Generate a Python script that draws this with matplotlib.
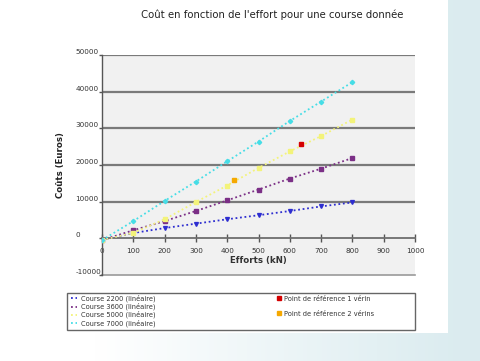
import numpy as np
import matplotlib
matplotlib.use("Agg")
import matplotlib.pyplot as plt
from matplotlib.patches import Rectangle
from matplotlib.lines import Line2D

# ---- data ----
efforts = [0, 100, 200, 300, 400, 500, 600, 700, 800]
course_2200 = [-500, 1450, 2800, 4000, 5200, 6300, 7450, 8700, 9800]
course_3600 = [-500, 2200, 4700, 7450, 10350, 13300, 16300, 19000, 21900]
course_5000 = [-500, 1500, 5200, 9900, 14400, 19200, 23700, 27900, 32400]
course_7000 = [-500, 4700, 10200, 15500, 21000, 26400, 32000, 37300, 42600]
ref1_x, ref1_y = [636], [25600]
ref2_x, ref2_y = [422], [15800]

series_labels = ["Course 2200 (linéaire)", "Course 3600 (linéaire)",
                 "Course 5000 (linéaire)", "Course 7000 (linéaire)"]
ref_labels = ["Point de référence 1 vérin", "Point de référence 2 vérins"]
x_ticks = [0, 100, 200, 300, 400, 500, 600, 700, 800, 900, 1000]
y_ticks = [-10000, 0, 10000, 20000, 30000, 40000, 50000]

W, H = 480, 361
fig = plt.figure(figsize=(W / 100, H / 100), dpi=100)
plt.rcParams['font.family'] = ['DejaVu Sans']

# ---- background ----
bg = fig.add_axes([0, 0, 1, 1], zorder=-10)
bg.set_axis_off()
grad = np.clip((np.linspace(0, 1, 200) - 0.2) / 0.75, 0, 1)
c0 = np.array([1.0, 1.0, 1.0])
c1 = np.array([0.86, 0.925, 0.94])
img = c0[None, None, :] * (1 - grad)[None, :, None] + c1[None, None, :] * grad[None, :, None]
bg.imshow(img, aspect='auto', extent=[0, W, 0, H])
bg.add_patch(Rectangle((0, H - 333), 448, 333, facecolor='white', edgecolor='none'))
bg.set_xlim(0, W)
bg.set_ylim(0, H)

def px(x0, y0, x1, y1):
    return [x0 / W, 1 - y1 / H, (x1 - x0) / W, (y1 - y0) / H]

ax = fig.add_axes(px(102, 55, 415, 275))
ax.set_facecolor('#f1f1f1')
ax.set_xlim(0, 1000)
ax.set_ylim(-10000, 50000)

for s in ['top', 'right']:
    ax.spines[s].set_visible(False)
ax.spines['bottom'].set_position(('data', 0))
ax.spines['bottom'].set_color('#6e6e6e')
ax.spines['bottom'].set_linewidth(1.3)
ax.spines['left'].set_color('#555555')
ax.spines['left'].set_linewidth(1.0)

for yv in y_ticks[2:]:
    ax.axhline(yv, color='#7a7a7a', lw=1.6, zorder=1)
ax.axhline(y_ticks[0], color='#9a9a9a', lw=1.2, zorder=1, clip_on=False)

ax.set_xticks(x_ticks)
ax.set_xticklabels([str(v) for v in x_ticks])
ax.set_yticks(y_ticks)
ax.set_yticklabels([str(v) for v in y_ticks])
ax.tick_params(axis='x', direction='inout', length=6, width=1, color='#555555',
               labelsize=5.2, pad=4, labelcolor='#333333')
ax.tick_params(axis='y', direction='out', length=2, width=1, color='#555555',
               labelsize=5.2, pad=17, labelcolor='#333333')
for lab in ax.get_yticklabels():
    lab.set_horizontalalignment('left')
    lab.set_verticalalignment('bottom')

ax.set_xlabel("Efforts (kN)", fontsize=6.2, fontweight='bold', color='#333333')
ax.xaxis.set_label_coords(0.5, 0.085)
ax.set_ylabel("Coûts (Euros)", fontsize=6.2, fontweight='bold', color='#222222')
ax.yaxis.set_label_coords(-0.118, 0.5)

styles = [
    (course_2200, '#2e2ed0', 'v', 2.8),
    (course_3600, '#7b2f86', 's', 2.2),
    (course_5000, '#f3f37a', 's', 2.2),
    (course_7000, '#46dde6', 'D', 2.2),
]
handles = []
for (vals, col, mk, ms), lab in zip(styles, series_labels):
    ax.plot(efforts, vals, linestyle=(0, (1, 1.5)), color=col, lw=1.3,
            marker=mk, markersize=ms, zorder=3)
    handles.append(Line2D([], [], linestyle=(0, (1, 1.5)), color=col, lw=1.3))

ax.plot(ref1_x, ref1_y, 's', color='#d40000', markersize=3, zorder=4)
ax.plot(ref2_x, ref2_y, 's', color='#f5a800', markersize=3, zorder=4)

fig.text(272 / W, 1 - 15 / H, "Coût en fonction de l'effort pour une course donnée",
         ha='center', va='center', fontsize=7.3, color='#222222')

# ---- legend ----
bg.add_patch(Rectangle((67, H - 330), 348, 37, facecolor='white',
                       edgecolor='#666666', lw=1.0, zorder=5))
leg1 = fig.legend(handles, series_labels, loc='upper left',
                  bbox_to_anchor=(66 / W, 1 - 290 / H), frameon=False,
                  fontsize=4.8, handlelength=1.0, handletextpad=0.6,
                  labelspacing=0.1, borderpad=0.2, labelcolor='#333333')
ref_handles = [Line2D([], [], linestyle='none', marker='s', color='#d40000', markersize=2.6),
               Line2D([], [], linestyle='none', marker='s', color='#f5a800', markersize=2.6)]
leg2 = fig.legend(ref_handles, ref_labels, loc='upper left',
                  bbox_to_anchor=(272 / W, 1 - 291 / H), frameon=False,
                  fontsize=4.8, handlelength=0.8, handletextpad=0.3,
                  labelspacing=1.35, borderpad=0.2, labelcolor='#333333')

fig.savefig("out.png", dpi=100)
